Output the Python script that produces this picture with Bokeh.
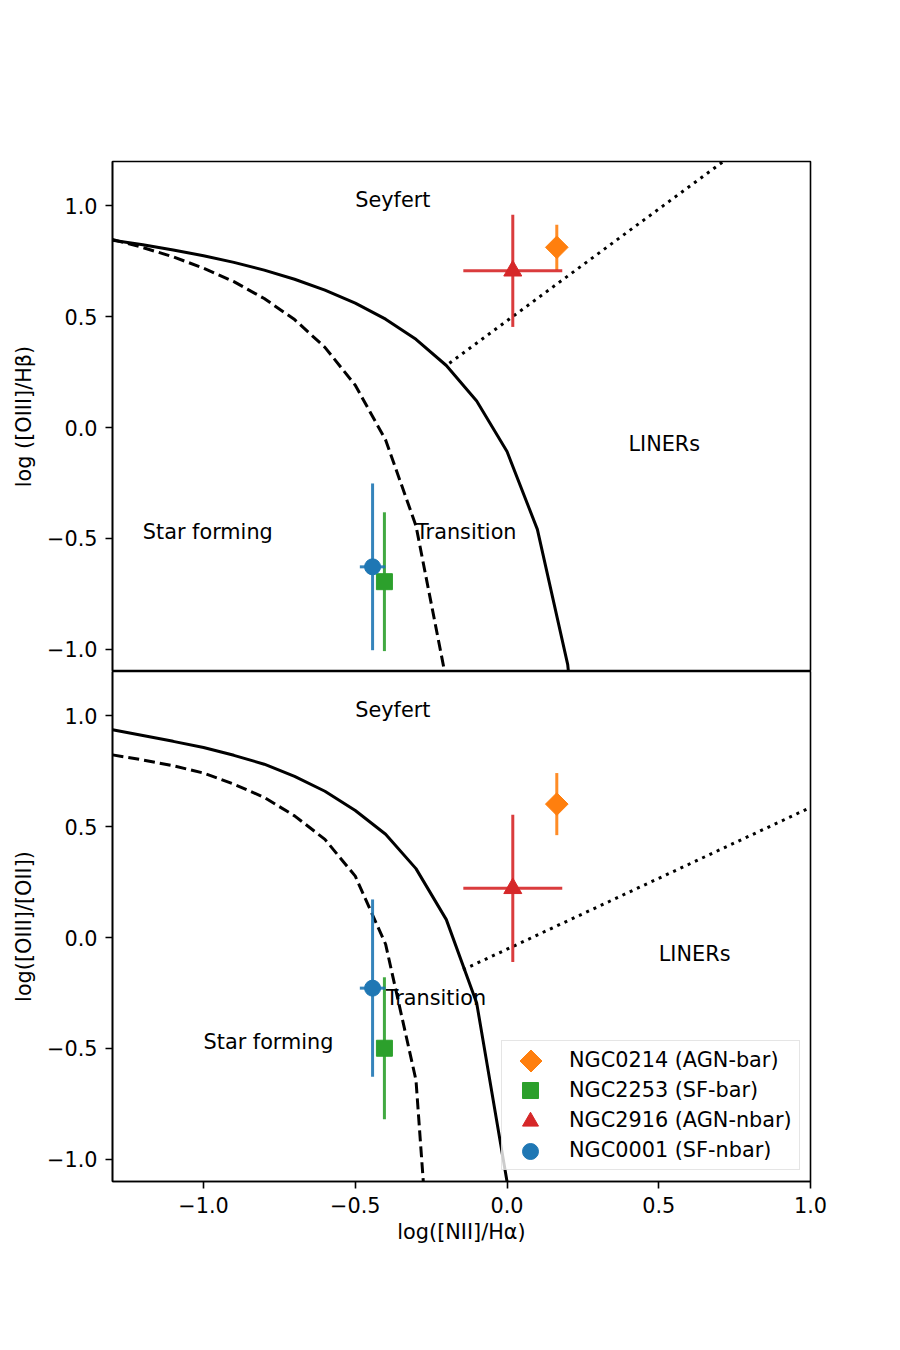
import numpy as np
from bokeh.plotting import figure
from bokeh.layouts import column
from bokeh.models import (FixedTicker, Legend, LegendItem, Range1d,
                          CustomJSTickFormatter, ColumnDataSource)
from bokeh.core.properties import value
from bokeh.embed import file_html
from bokeh.resources import INLINE

FONT = "DejaVu Sans"
FS = "20.8px"

# galaxies
galaxies = ["NGC0214 (AGN-bar)", "NGC2253 (SF-bar)", "NGC2916 (AGN-nbar)", "NGC0001 (SF-nbar)"]
colors = ["#ff7f0e", "#2ca02c", "#d62728", "#1f77b4"]
markers = ["square", "square", "triangle", "circle"]
marker_angles = [np.pi / 4, 0.0, 0.0, 0.0]
marker_sizes = [16, 16, 18, 16]

log_nii_ha = [0.164, -0.404, 0.019, -0.443]
log_nii_ha_err = [0.03, 0.02, 0.163, 0.042]
log_oiii_hb = [0.813, -0.695, 0.707, -0.628]
log_oiii_hb_err = [0.102, 0.313, 0.253, 0.376]
log_oiii_oii = [0.602, -0.499, 0.222, -0.228]
log_oiii_oii_err = [0.14, 0.32, 0.332, 0.40]

# demarcation curves, upper panel
bpt_x_max = [-1.3, -1.2, -1.1, -1.0, -0.9, -0.8, -0.7, -0.6, -0.5, -0.4, -0.3,
             -0.2, -0.1, 0.0, 0.1, 0.2, 0.3]
bpt_y_max = [0.845, 0.825, 0.801, 0.775, 0.745, 0.710, 0.669, 0.620, 0.561, 0.489,
             0.398, 0.280, 0.120, -0.108, -0.459, -1.069, -2.398]
bpt_x_sf = [-1.3, -1.2, -1.1, -1.0, -0.9, -0.8, -0.7, -0.6, -0.5, -0.4, -0.3, -0.2]
bpt_y_sf = [0.848, 0.812, 0.770, 0.719, 0.658, 0.582, 0.487, 0.362, 0.191, -0.056,
            -0.443, -1.140]
bpt_x_liner = [-0.19, 1.0]
bpt_y_liner = [0.29, 1.49]

# demarcation curves, lower panel
oii_x_max = [-1.3, -1.2, -1.1, -1.0, -0.9, -0.8, -0.7, -0.6, -0.5, -0.4, -0.3,
             -0.2, -0.1, 0.0, 0.05]
oii_y_max = [0.937, 0.911, 0.885, 0.857, 0.822, 0.782, 0.727, 0.660, 0.573, 0.466,
             0.311, 0.081, -0.295, -1.10, -1.60]
oii_x_sf = [-1.3, -1.2, -1.1, -1.0, -0.9, -0.8, -0.7, -0.6, -0.5, -0.4, -0.3, -0.2]
oii_y_sf = [0.824, 0.801, 0.775, 0.742, 0.692, 0.632, 0.549, 0.443, 0.277, -0.030,
            -0.643, -2.540]
oii_x_liner = [-0.145, 1.0]
oii_y_liner = [-0.145, 0.587]

ticks = [-1.0, -0.5, 0.0, 0.5, 1.0]

top_labels = ["Seyfert", "LINERs", "Star forming", "Transition"]
top_label_x = [-0.5, 0.4, -1.2, -0.3]
top_label_y = [1.0, -0.1, -0.5, -0.5]
bot_labels = ["Seyfert", "LINERs", "Star forming", "Transition"]
bot_label_x = [-0.5, 0.5, -1.0, -0.4]
bot_label_y = [1.0, -0.1, -0.5, -0.3]

fmt = CustomJSTickFormatter(code="return tick.toFixed(1).replace('-', '\u2212');")
x_range = Range1d(-1.3, 1.0)


def style_axis(ax):
    ax.ticker = FixedTicker(ticks=ticks)
    ax.formatter = fmt
    ax.major_label_text_font = FONT
    ax.major_label_text_font_size = FS
    ax.major_label_text_color = "black"
    ax.axis_label_text_font = FONT
    ax.axis_label_text_font_size = FS
    ax.axis_label_text_font_style = "normal"
    ax.axis_label_text_color = "black"
    ax.axis_line_color = "black"
    ax.axis_line_width = 1.6
    ax.major_tick_line_color = "black"
    ax.major_tick_line_width = 1.6
    ax.major_tick_out = 7
    ax.major_tick_in = 0
    ax.minor_tick_out = 0
    ax.minor_tick_in = 0
    ax.major_label_standoff = 8


def make_panel(yvals, yerrs, curve_max, curve_sf, curve_liner, ylabel,
               labels, lx, ly, bottom):
    p = figure(frame_width=698, frame_height=510,
               min_border_left=112, min_border_right=90,
               min_border_top=0 if bottom else 161,
               min_border_bottom=169 if bottom else 0,
               x_range=x_range, y_range=Range1d(-1.1, 1.2),
               x_axis_location="below" if bottom else None,
               output_backend="svg", toolbar_location=None,
               background_fill_color="white", border_fill_color="white")
    p.grid.visible = False
    p.outline_line_color = "black"
    p.outline_line_width = 1.6
    p.outline_line_alpha = 1.0

    style_axis(p.yaxis[0])
    p.yaxis.axis_label = ylabel
    p.yaxis.axis_label_standoff = 8
    if bottom:
        style_axis(p.xaxis[0])
        p.xaxis.axis_label = "log([NII]/H\u03b1)"
        p.xaxis.axis_label_standoff = 4

    p.line(curve_max[0], curve_max[1], line_color="black", line_width=3)
    p.line(curve_sf[0], curve_sf[1], line_color="black", line_width=3,
           line_dash="11 5")
    p.line(curve_liner[0], curve_liner[1], line_color="black", line_width=3,
           line_dash="3 5")

    p.text(x=lx, y=ly, text=labels, text_font=value(FONT), text_font_size=FS,
           text_align="left", text_baseline="alphabetic", text_color="black",
           y_offset=-6)

    for i in range(len(galaxies)):
        x, xe = log_nii_ha[i], log_nii_ha_err[i]
        y, ye = yvals[i], yerrs[i]
        p.segment(x0=[x - xe, x], y0=[y, y - ye], x1=[x + xe, x], y1=[y, y + ye],
                  line_color=colors[i], line_width=3, line_alpha=0.9)
        p.scatter([x], [y], marker=markers[i], size=marker_sizes[i],
                  angle=marker_angles[i], fill_color=colors[i],
                  line_color=colors[i], line_width=1)
    return p


p1 = make_panel(log_oiii_hb, log_oiii_hb_err, (bpt_x_max, bpt_y_max),
                (bpt_x_sf, bpt_y_sf), (bpt_x_liner, bpt_y_liner),
                "log ([OIII]/H\u03b2)", top_labels, top_label_x, top_label_y,
                bottom=False)
p2 = make_panel(log_oiii_oii, log_oiii_oii_err, (oii_x_max, oii_y_max),
                (oii_x_sf, oii_y_sf), (oii_x_liner, oii_y_liner),
                "log([OIII]/[OII])", bot_labels, bot_label_x, bot_label_y,
                bottom=True)

# ---- legend ----
# Legend glyphs scale with the key box, so the box with the labels uses blank keys
# and each symbol is drawn by its own borderless single-entry legend on top.
key_src = ColumnDataSource(dict(x=[np.nan], y=[np.nan]))
blank_key = p2.scatter("x", "y", source=key_src, marker="square", size=1,
                       fill_alpha=0, line_alpha=0)

legend = Legend(items=[LegendItem(label=g, renderers=[blank_key]) for g in galaxies],
                location=(389, 11), margin=0, padding=4, spacing=0,
                glyph_width=50, glyph_height=30, label_height=30,
                label_standoff=13, label_width=226,
                label_text_font=FONT, label_text_font_size=FS,
                label_text_color="black",
                border_line_color="#cccccc", border_line_width=1.6,
                background_fill_color="white", background_fill_alpha=0.8)
p2.add_layout(legend)

try:
    from bokeh.models import Ngon
    diamond_key = p2.add_glyph(key_src, Ngon(x="x", y="y", radius=11, radius_units="screen",
                                             n=4, fill_color=colors[0], line_color=colors[0]))
    diamond_box = 55
except Exception:
    diamond_key = p2.scatter("x", "y", source=key_src, marker="diamond", size=23,
                             fill_color=colors[0], line_color=colors[0], line_width=2)
    diamond_box = 50

symbol_keys = [diamond_key]
for i in range(1, len(galaxies)):
    symbol_keys.append(p2.scatter("x", "y", source=key_src, marker=markers[i],
                                  fill_color=colors[i], line_color=colors[i]))
box_sizes = [diamond_box, 40, 40, 40]
row_centers = [1060, 1090, 1120.5, 1150.5]   # screen rows of the legend entries
frame_left, frame_bottom, key_cx = 112, 1181, 530

for key, box, cy in zip(symbol_keys, box_sizes, row_centers):
    lg = Legend(items=[LegendItem(label=" ", renderers=[key])],
                location=(key_cx - frame_left - box / 2, frame_bottom - cy - box / 2),
                margin=0, padding=0, spacing=0,
                glyph_width=box, glyph_height=box, label_height=10,
                label_standoff=0, label_width=1,
                label_text_font_size="1px",
                border_line_color=None, background_fill_alpha=0)
    p2.add_layout(lg)

layout = column(p1, p2, spacing=0)
open("out.html", "w").write(file_html(layout, INLINE))
